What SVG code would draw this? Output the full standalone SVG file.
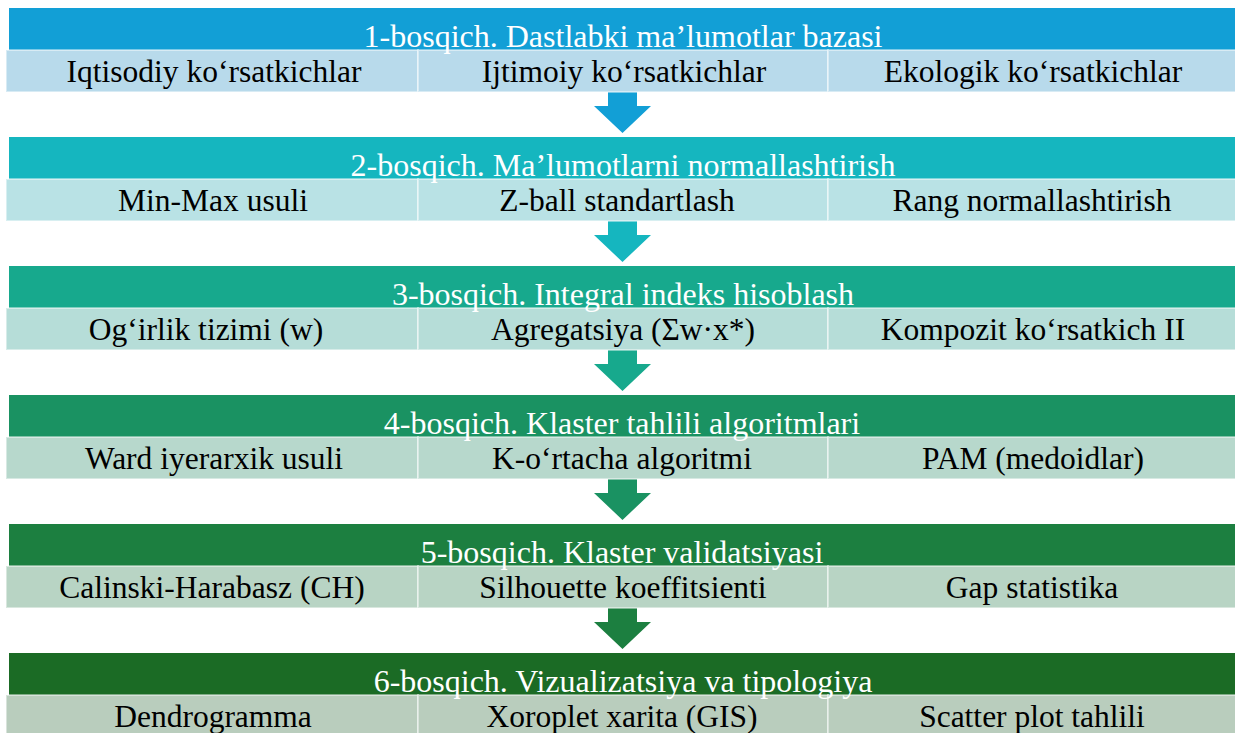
<svg xmlns="http://www.w3.org/2000/svg" width="1235" height="733" viewBox="0 0 1235 733">
<style>
.hd{font-family:"Liberation Serif",serif;font-size:32px;fill:#ffffff;text-anchor:middle}
.sb{font-family:"Liberation Serif",serif;font-size:31.5px;fill:#000000;text-anchor:middle}
.cell{stroke:#ffffff;stroke-opacity:0.45;stroke-width:2}
</style>
<rect width="1235" height="733" fill="#ffffff"/>
<g id="connectors">
<polygon points="608,92 637,92 637,106 651,106 622.5,133 594,106 608,106" fill="#129FD6"/>
<polygon points="608,221 637,221 637,235 651,235 622.5,262 594,235 608,235" fill="#15B6BF"/>
<polygon points="608,350 637,350 637,364 651,364 622.5,391 594,364 608,364" fill="#17A98D"/>
<polygon points="608,479 637,479 637,493 651,493 622.5,520 594,493 608,493" fill="#1A9262"/>
<polygon points="608,608 637,608 637,622 651,622 622.5,649 594,622 608,622" fill="#1C7F40"/>
</g>
<g id="stage1">
<rect x="9" y="8" width="1226" height="42" fill="#129FD6"/>
<rect class="cell" x="6" y="50" width="412" height="42" fill="#B8DAEB"/>
<rect class="cell" x="418" y="50" width="410" height="42" fill="#B8DAEB"/>
<rect class="cell" x="828" y="50" width="410" height="42" fill="#B8DAEB"/>
<text class="hd" x="623" y="47">1-bosqich. Dastlabki ma’lumotlar bazasi</text>
<text class="sb" x="214" y="82">Iqtisodiy ko‘rsatkichlar</text>
<text class="sb" x="624" y="82">Ijtimoiy ko‘rsatkichlar</text>
<text class="sb" x="1033" y="82">Ekologik ko‘rsatkichlar</text>
</g>
<g id="stage2">
<rect x="9" y="137" width="1226" height="42" fill="#15B6BF"/>
<rect class="cell" x="6" y="179" width="412" height="42" fill="#B9E2E5"/>
<rect class="cell" x="418" y="179" width="410" height="42" fill="#B9E2E5"/>
<rect class="cell" x="828" y="179" width="410" height="42" fill="#B9E2E5"/>
<text class="hd" x="623" y="176">2-bosqich. Ma’lumotlarni normallashtirish</text>
<text class="sb" x="213" y="211">Min-Max usuli</text>
<text class="sb" x="617" y="211">Z-ball standartlash</text>
<text class="sb" x="1032" y="211">Rang normallashtirish</text>
</g>
<g id="stage3">
<rect x="9" y="266" width="1226" height="42" fill="#17A98D"/>
<rect class="cell" x="6" y="308" width="412" height="42" fill="#B6DDD8"/>
<rect class="cell" x="418" y="308" width="410" height="42" fill="#B6DDD8"/>
<rect class="cell" x="828" y="308" width="410" height="42" fill="#B6DDD8"/>
<text class="hd" x="623" y="305">3-bosqich. Integral indeks hisoblash</text>
<text class="sb" x="206" y="340">Og‘irlik tizimi (w)</text>
<text class="sb" x="623" y="340">Agregatsiya (Σw·x*)</text>
<text class="sb" x="1033" y="340">Kompozit ko‘rsatkich II</text>
</g>
<g id="stage4">
<rect x="9" y="395" width="1226" height="42" fill="#1A9262"/>
<rect class="cell" x="6" y="437" width="412" height="42" fill="#B7D8CC"/>
<rect class="cell" x="418" y="437" width="410" height="42" fill="#B7D8CC"/>
<rect class="cell" x="828" y="437" width="410" height="42" fill="#B7D8CC"/>
<text class="hd" x="622" y="434">4-bosqich. Klaster tahlili algoritmlari</text>
<text class="sb" x="214" y="469">Ward iyerarxik usuli</text>
<text class="sb" x="622" y="469">K-o‘rtacha algoritmi</text>
<text class="sb" x="1033" y="469">PAM (medoidlar)</text>
</g>
<g id="stage5">
<rect x="9" y="524" width="1226" height="42" fill="#1C7F40"/>
<rect class="cell" x="6" y="566" width="412" height="42" fill="#B8D4C4"/>
<rect class="cell" x="418" y="566" width="410" height="42" fill="#B8D4C4"/>
<rect class="cell" x="828" y="566" width="410" height="42" fill="#B8D4C4"/>
<text class="hd" x="622" y="563">5-bosqich. Klaster validatsiyasi</text>
<text class="sb" x="212" y="598">Calinski-Harabasz (CH)</text>
<text class="sb" x="623" y="598">Silhouette koeffitsienti</text>
<text class="sb" x="1032" y="598">Gap statistika</text>
</g>
<g id="stage6">
<rect x="9" y="653" width="1226" height="42" fill="#1B6B25"/>
<rect class="cell" x="6" y="695" width="412" height="42" fill="#B9CDBD"/>
<rect class="cell" x="418" y="695" width="410" height="42" fill="#B9CDBD"/>
<rect class="cell" x="828" y="695" width="410" height="42" fill="#B9CDBD"/>
<text class="hd" x="623" y="692">6-bosqich. Vizualizatsiya va tipologiya</text>
<text class="sb" x="213" y="727">Dendrogramma</text>
<text class="sb" x="622" y="727">Xoroplet xarita (GIS)</text>
<text class="sb" x="1032" y="727">Scatter plot tahlili</text>
</g>
</svg>
